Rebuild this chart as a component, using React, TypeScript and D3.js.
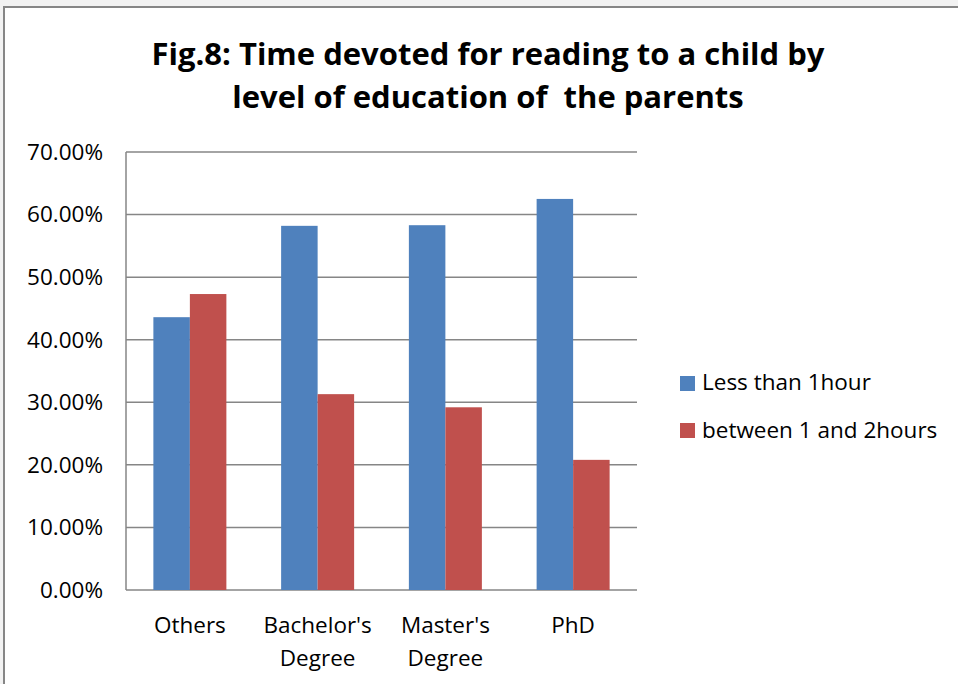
import React from "react";
import * as d3 from "d3";

const categories: string[][] = [["Others"], ["Bachelor's", "Degree"], ["Master's", "Degree"], ["PhD"]];
const seriesNames = ["Less than 1hour", "between 1 and 2hours"];
const lessThan1Hour = [0.436, 0.582, 0.583, 0.625];
const between1And2Hours = [0.473, 0.313, 0.292, 0.208];
const yTicks = [0, 0.1, 0.2, 0.3, 0.4, 0.5, 0.6, 0.7];
const titleLines = ["Fig.8: Time devoted for reading to a child by", "level of education of  the parents"];
const colors = ["#4F81BD", "#C0504D"];

const W = 958;
const H = 684;
const FONT = "'Open Sans', 'DejaVu Sans', sans-serif";

export default function App() {
  const left = 126, right = 637, top = 152, bottom = 590;
  const x0 = d3.scaleBand<number>().domain(d3.range(categories.length)).range([left, right]).paddingInner(0).paddingOuter(0);
  const y = d3.scaleLinear().domain([0, 0.7]).range([bottom, top]);
  const band = x0.bandwidth();
  const barW = band / 3.5;
  const series = [lessThan1Hour, between1And2Hours];
  const fmt = d3.format(".2%");

  return (
    <svg width={W} height={H} style={{ position: "absolute", left: 0, top: 0 }}>
      <rect x={0} y={0} width={W} height={H} fill="#f2f2f2" />
      <rect x={4} y={7} width={W + 10} height={H + 10} fill="#ffffff" stroke="#868686" strokeWidth={2} />
      {titleLines.map((t, i) => (
        <text key={i} x={488} y={65 + i * 43} textAnchor="middle" fontFamily={FONT} fontWeight="bold" fontSize={31} fill="#000" style={{ whiteSpace: "pre" }}>
          {t}
        </text>
      ))}
      {yTicks.map((t) => (
        <g key={t}>
          <line x1={left} x2={right} y1={y(t)} y2={y(t)} stroke="#868686" strokeWidth={1.5} />
          <text x={103} y={y(t)} dy="0.35em" textAnchor="end" fontFamily={FONT} fontSize={22.5} fill="#000">
            {fmt(t)}
          </text>
        </g>
      ))}
      <line x1={left} x2={left} y1={top} y2={bottom} stroke="#868686" strokeWidth={1.5} />
      {series.map((vals, s) =>
        vals.map((v, i) => {
          const xs = (x0(i) as number) + band / 2 - barW + s * barW;
          return <rect key={`${s}-${i}`} x={xs} y={y(v)} width={barW} height={bottom - y(v)} fill={colors[s]} />;
        })
      )}
      {categories.map((lines, i) => (
        <text key={i} x={(x0(i) as number) + band / 2} textAnchor="middle" fontFamily={FONT} fontSize={22.5} fill="#000">
          {lines.map((l, j) => (
            <tspan key={j} x={(x0(i) as number) + band / 2} y={633 + j * 33}>
              {l}
            </tspan>
          ))}
        </text>
      ))}
      {seriesNames.map((n, s) => (
        <g key={n}>
          <rect x={680} y={376 + s * 47} width={15} height={15} fill={colors[s]} />
          <text x={702} y={390 + s * 48} fontFamily={FONT} fontSize={22.5} fill="#000">
            {n}
          </text>
        </g>
      ))}
    </svg>
  );
}
